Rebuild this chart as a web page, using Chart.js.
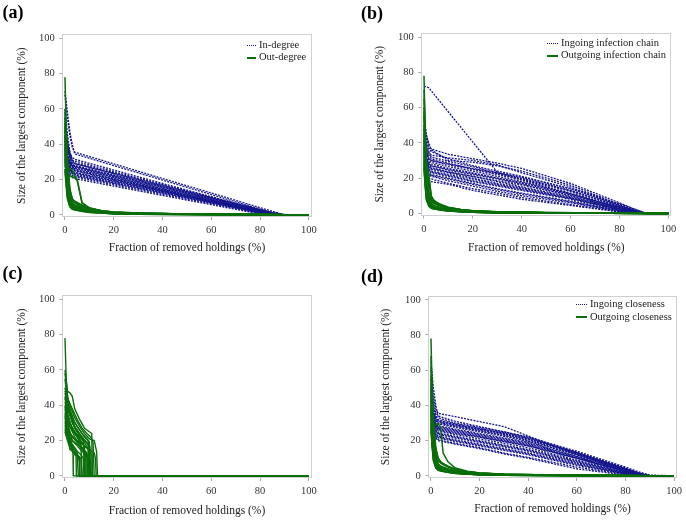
<!DOCTYPE html>
<html><head><meta charset="utf-8">
<script src="https://cdn.jsdelivr.net/npm/chart.js@4.4.1/dist/chart.umd.min.js"></script>
<style>
html,body{margin:0;padding:0;background:#fff}
body{width:686px;height:521px;position:relative;overflow:hidden;font-family:"Liberation Serif",serif}
canvas{position:absolute}
.lab{position:absolute;font:bold 18px/18px "Liberation Serif",serif;color:#000}
.leg{position:absolute;font:10.5px "Liberation Serif",serif;color:#222;white-space:nowrap}
.leg div{height:12.5px;line-height:12.5px}
.smp{display:inline-block;vertical-align:middle;height:0;margin-right:3px}
.dot{border-top:1.5px dotted #15158c}
.sol{border-top:2px solid #0a6e0a}
</style></head><body>
<canvas id="ca" style="left:0;top:0" width="343" height="260"></canvas>
<canvas id="cb" style="left:343px;top:0" width="343" height="260"></canvas>
<canvas id="cc" style="left:0;top:260px" width="343" height="261"></canvas>
<canvas id="cd" style="left:343px;top:260px" width="343" height="261"></canvas>
<div class="lab" style="left:2.5px;top:3px">(a)</div>
<div class="lab" style="left:361px;top:4px">(b)</div>
<div class="lab" style="left:2.5px;top:264px">(c)</div>
<div class="lab" style="left:361px;top:267px">(d)</div>
<div class="leg" style="left:247px;top:38.5px"><div><span class="smp dot" style="width:9px"></span>In-degree</div><div><span class="smp sol" style="width:9px"></span>Out-degree</div></div>
<div class="leg" style="left:547px;top:36.5px"><div><span class="smp dot" style="width:11px"></span>Ingoing infection chain</div><div><span class="smp sol" style="width:11px"></span>Outgoing infection chain</div></div>
<div class="leg" style="left:576px;top:298px"><div><span class="smp dot" style="width:11px"></span>Ingoing closeness</div><div><span class="smp sol" style="width:11px"></span>Outgoing closeness</div></div>
<script>
// ---------- tick labels / axes ----------
const tickValues = [0, 20, 40, 60, 80, 100];
const xTitle = 'Fraction of removed holdings (%)';
const yTitle = 'Size of the largest component (%)';

// ---------- shared x positions (fraction of removed holdings, %) ----------
const xInDegree = [0, 1, 2, 3, 4, 20, 40, 60, 80, 85, 90, 100];
const xChain = [0, 1, 2, 3, 10, 20, 30, 40, 60, 80, 85, 90, 100];
const xOut = [0, 0.5, 1, 2, 3, 4, 5, 7, 10, 15, 20, 30, 50, 75, 100];

// ---------- panel (a) ----------
const inDegree = [
  [68, 55, 45, 38, 35.5, 28.9, 20.6, 12.4, 4.1, 2.1, 0, 0],
  [70, 58, 47, 40, 34.5, 27.9, 19.7, 11.5, 3.3, 1.2, 0, 0],
  [45, 38, 33, 31, 30.5, 24.5, 17.1, 9.7, 2.2, 0.4, 0, 0],
  [42, 36, 31, 29.5, 29, 23.3, 16.1, 9.0, 1.8, 0, 0, 0],
  [38, 33, 30, 28.5, 28, 22.6, 15.9, 9.1, 2.4, 0.7, 0, 0],
  [40, 34, 30, 28, 27, 21.6, 14.8, 8.1, 1.4, 0, 0, 0],
  [35, 31, 28, 27, 26.5, 21.3, 14.9, 8.4, 1.9, 0.3, 0, 0],
  [33, 29, 27, 26, 25.5, 20.3, 13.9, 7.4, 1.0, 0, 0, 0],
  [50, 40, 32, 27, 25, 20.2, 14.3, 8.3, 2.4, 0.9, 0, 0],
  [30, 27, 25.5, 24.5, 24, 19.3, 13.3, 7.4, 1.5, 0, 0, 0],
  [28, 26, 24.5, 23.5, 23, 18.4, 12.7, 6.9, 1.2, 0, 0, 0],
  [44, 35, 28, 24, 22.5, 18.1, 12.6, 7.1, 1.6, 0.3, 0, 0],
  [26, 24, 23, 22, 21.5, 17.1, 11.7, 6.3, 0.8, 0, 0, 0],
  [25, 23, 22, 21, 20.5, 16.3, 11.0, 5.8, 0.5, 0, 0, 0],
  [55, 42, 33, 29, 27.5, 22.3, 15.9, 9.4, 2.9, 1.3, 0, 0],
  [36, 32, 29, 27.5, 26, 20.9, 14.4, 8.0, 1.6, 0, 0, 0],
  [32, 28, 26, 24.5, 24, 19.4, 13.6, 7.8, 2.0, 0.6, 0, 0],
  [60, 46, 36, 30, 29, 23.5, 16.6, 9.7, 2.8, 1.0, 0, 0],
  [48, 40, 35, 32.5, 31.5, 25.4, 17.8, 10.3, 2.7, 0.8, 0, 0],
  [37, 32, 29.5, 28, 27.5, 22.1, 15.4, 8.7, 2.0, 0.3, 0, 0],
  [34, 30, 27, 25.5, 25, 20, 13.8, 7.5, 1.3, 0, 0, 0],
  [29, 26, 24, 22.5, 22, 17.7, 12.2, 6.8, 1.4, 0, 0, 0],
  [52, 41, 34, 31, 29.5, 23.9, 17.0, 10.1, 3.1, 1.4, 0, 0],
  [31, 27.5, 25.5, 24, 23.5, 18.9, 13.2, 7.4, 1.7, 0.3, 0, 0]
];
const outDegree = [
  [78, 50, 30, 12, 7, 5.5, 5, 4, 3, 2, 1.4, 0.9, 0.5, 0.3, 0],
  [60, 40, 25, 10, 6, 5, 4.5, 3.5, 2.6, 1.8, 1.2, 0.8, 0.4, 0.2, 0],
  [55, 35, 20, 9, 5.5, 4.5, 4, 3.2, 2.4, 1.6, 1.1, 0.7, 0.4, 0.2, 0],
  [50, 30, 18, 8, 5, 4.2, 3.8, 3, 2.2, 1.5, 1, 0.6, 0.3, 0.2, 0],
  [45, 28, 16, 7, 4.5, 3.9, 3.5, 2.8, 2, 1.4, 1, 0.6, 0.3, 0.1, 0],
  [42, 26, 15, 6.5, 4.2, 3.6, 3.3, 2.6, 1.9, 1.3, 0.9, 0.5, 0.3, 0.1, 0],
  [40, 32, 24, 12, 8, 6.8, 6, 4.8, 3.5, 2.2, 1.5, 0.9, 0.5, 0.3, 0],
  [38, 25, 14, 6, 4, 3.5, 3.1, 2.5, 1.8, 1.2, 0.8, 0.5, 0.3, 0.1, 0],
  [35, 22, 12, 5.5, 3.8, 3.3, 3, 2.4, 1.7, 1.1, 0.8, 0.5, 0.2, 0.1, 0],
  [32, 20, 11, 5, 3.5, 3.1, 2.8, 2.2, 1.6, 1.1, 0.7, 0.4, 0.2, 0.1, 0],
  [30, 28, 27, 26, 25.5, 22, 20, 7, 4, 2.4, 1.6, 1, 0.5, 0.3, 0],
  [28, 25, 23, 22, 21.5, 21, 19.5, 6.5, 3.8, 2.2, 1.4, 0.9, 0.5, 0.2, 0],
  [26, 18, 10, 5, 3.5, 3, 2.7, 2.1, 1.5, 1, 0.7, 0.4, 0.2, 0.1, 0],
  [25, 16, 9, 4.5, 3.2, 2.8, 2.5, 2, 1.4, 1, 0.6, 0.4, 0.2, 0.1, 0],
  [48, 38, 28, 14, 9, 7.8, 7, 5.5, 3.8, 2.4, 1.6, 1, 0.5, 0.3, 0],
  [52, 33, 19, 8.5, 5.2, 4.6, 4.2, 3.4, 2.5, 1.7, 1.2, 0.7, 0.4, 0.2, 0],
  [58, 45, 32, 15, 9, 7.5, 6.5, 5, 3.6, 2.3, 1.5, 0.9, 0.5, 0.3, 0],
  [44, 36, 27, 11, 6.5, 5.6, 5, 4, 2.9, 1.9, 1.3, 0.8, 0.4, 0.2, 0]
];

// ---------- panel (b) ----------
const ingoingChain = [
  [72, 71.8, 71.2, 69.5, 57.5, 40.4, 23.3, 19, 11, 3, 1, 0, 0],
  [55, 45, 38, 36.5, 33.5, 31, 28.5, 25.5, 17, 6, 3, 0.5, 0],
  [48, 42, 37, 35, 31, 27, 24, 21, 14, 5, 2.5, 0, 0],
  [45, 38, 34, 32, 29.5, 26.5, 23, 20, 13, 4, 1.5, 0, 0],
  [42, 35, 31, 30, 28, 25.5, 23, 20.5, 14, 5.5, 3, 0.5, 0],
  [40, 34, 30, 29, 26.5, 24, 21, 18, 11.5, 3.5, 1, 0, 0],
  [38, 32, 29, 28, 25.5, 23, 20, 17.5, 11, 3, 0.8, 0, 0],
  [36, 31, 28, 27, 24.5, 22, 19.5, 16.5, 10, 2.5, 0.5, 0, 0],
  [35, 30, 27, 26, 23.5, 21, 18.5, 16, 10.5, 3.5, 1.5, 0, 0],
  [33, 28, 26, 25, 23, 20, 17, 14.5, 9, 2, 0.3, 0, 0],
  [32, 28, 25, 24, 22, 19.5, 16.5, 14, 8.5, 2.5, 0.8, 0, 0],
  [30, 26, 24, 23, 21, 18, 15.5, 13, 8, 1.8, 0.3, 0, 0],
  [29, 25, 23, 22, 20, 17, 14, 11.5, 7, 1.5, 0, 0, 0],
  [28, 24, 22, 21, 18.5, 15.5, 12.5, 10, 6, 1.2, 0, 0, 0],
  [27, 22, 20, 19.5, 17, 14, 11.5, 9, 5, 1, 0, 0, 0],
  [26, 21, 19, 18, 16.5, 13, 10.5, 8, 4.5, 0.8, 0, 0, 0],
  [50, 44, 40, 36, 30, 29, 27, 24, 16, 5, 2, 0, 0],
  [46, 40, 35, 33, 31.5, 30, 27.5, 23, 15, 4.5, 2, 0, 0],
  [44, 37, 33, 31, 28.5, 25, 22, 19, 12.5, 4, 1.8, 0, 0],
  [37, 31, 28, 27, 25, 22.5, 20, 17, 11, 3.2, 1, 0, 0],
  [34, 29, 26.5, 25.5, 23.5, 21, 18, 15, 9.5, 2.8, 0.8, 0, 0],
  [31, 27, 24.5, 23.5, 21.5, 18.5, 16, 13.5, 8.5, 2.2, 0.5, 0, 0],
  [29, 24, 22, 21.5, 19.5, 16.5, 13.5, 11, 6.5, 1.5, 0, 0, 0],
  [41, 35, 31, 30, 27.5, 25, 22.5, 19.5, 13, 4.5, 2, 0, 0]
];
const outgoingChain = [
  [78, 45, 22, 9, 5.5, 4.5, 4, 3.2, 2.4, 1.6, 1.1, 0.7, 0.4, 0.2, 0],
  [65, 40, 20, 8, 5, 4.2, 3.8, 3, 2.2, 1.5, 1, 0.6, 0.3, 0.2, 0],
  [60, 35, 18, 7.5, 4.8, 4, 3.6, 2.9, 2.1, 1.4, 1, 0.6, 0.3, 0.1, 0],
  [55, 30, 16, 7, 4.5, 3.8, 3.4, 2.7, 2, 1.3, 0.9, 0.5, 0.3, 0.1, 0],
  [50, 42, 30, 12, 7, 6, 5.2, 4.2, 3, 2, 1.4, 0.8, 0.4, 0.2, 0],
  [48, 28, 14, 6.5, 4.2, 3.6, 3.2, 2.6, 1.9, 1.3, 0.9, 0.5, 0.3, 0.1, 0],
  [45, 26, 13, 6, 4, 3.4, 3, 2.4, 1.8, 1.2, 0.8, 0.5, 0.2, 0.1, 0],
  [42, 36, 28, 22, 10, 7.5, 6.5, 5, 3.5, 2.2, 1.5, 0.9, 0.5, 0.2, 0],
  [40, 24, 12, 5.5, 3.8, 3.2, 2.9, 2.3, 1.7, 1.1, 0.8, 0.4, 0.2, 0.1, 0],
  [38, 22, 11, 5, 3.6, 3, 2.7, 2.2, 1.6, 1.1, 0.7, 0.4, 0.2, 0.1, 0],
  [35, 30, 25, 18, 8, 6.5, 5.8, 4.6, 3.2, 2.1, 1.4, 0.8, 0.4, 0.2, 0],
  [33, 20, 10, 4.8, 3.4, 2.9, 2.6, 2.1, 1.5, 1, 0.7, 0.4, 0.2, 0.1, 0],
  [30, 18, 9, 4.5, 3.2, 2.8, 2.5, 2, 1.4, 1, 0.6, 0.4, 0.2, 0.1, 0],
  [28, 24, 21, 20, 9, 7, 6, 4.8, 3.4, 2.2, 1.5, 0.9, 0.5, 0.2, 0],
  [26, 16, 8, 4.2, 3, 2.6, 2.4, 1.9, 1.3, 0.9, 0.6, 0.3, 0.2, 0.1, 0],
  [25, 15, 7.5, 4, 2.9, 2.5, 2.3, 1.8, 1.3, 0.9, 0.6, 0.3, 0.2, 0.1, 0],
  [58, 38, 24, 10, 6.5, 5.5, 5, 4, 2.8, 1.9, 1.3, 0.8, 0.4, 0.2, 0],
  [70, 50, 28, 11, 7.5, 6.4, 5.6, 4.4, 3.1, 2, 1.4, 0.8, 0.4, 0.2, 0]
];

// ---------- panel (c): [x, y] points per replicate ----------
const panelC = [
  [[0,78],[0.5,55],[1,45],[2,40],[4,33],[6,28],[8,24],[10,21],[12,20],[13,13.5],[13.3,0],[100,0]],
  [[0,60],[1,48],[2,47],[3,45],[4,38],[6,32],[8,27],[10,25],[11,24],[11.2,0],[100,0]],
  [[0,55],[1,42],[2,38],[4,30],[6,26],[8,22],[9.5,20],[9.8,0],[100,0]],
  [[0,50],[1,40],[2,35],[3,30],[5,25],[7,22],[9,19],[10,16],[10.3,0],[100,0]],
  [[0,45],[1,36],[2,30],[4,25],[6,22],[7.5,20],[8,0],[100,0]],
  [[0,42],[1,35],[2,31],[3,26],[5,22],[6.5,18],[7,0],[100,0]],
  [[0,40],[1,33],[2,28],[4,22],[6,18],[8,14],[9,10],[9.2,0],[100,0]],
  [[0,38],[1,30],[2,25],[3,20],[5,17],[7,14],[8.5,12],[8.7,0],[100,0]],
  [[0,35],[1,28],[2,22],[3,16],[3.3,12],[3.4,0],[100,0]],
  [[0,33],[1,25],[2,15],[3,14],[5,12],[5.8,11],[6,0],[100,0]],
  [[0,30],[1,27],[2,24],[4,21],[6,19],[8,17],[10,15],[12,13],[12.5,10],[12.8,0],[100,0]],
  [[0,28],[1,25],[2,22],[3,20],[5,18],[7,15],[9,12],[10.5,8],[10.8,0],[100,0]],
  [[0,26],[1,22],[2,18],[3,15],[4,12],[5,11],[5.5,0],[100,0]],
  [[0,25],[1,20],[2,16],[3,14],[5,12],[6.5,10],[7,0],[100,0]],
  [[0,48],[1,44],[2,41],[3,38],[5,32],[7,27],[9,24],[10.5,22],[11.5,19],[12,0],[100,0]],
  [[0,58],[1,46],[2,36],[4,28],[6,24],[8,20],[10,17],[10.2,0],[100,0]],
  [[0,36],[1,31],[2,28],[4,24],[6,20],[8,17],[9.5,15],[9.7,0],[100,0]],
  [[0,31],[1,26],[2,21],[3,18],[5,14],[6.5,12],[7.5,10],[7.8,0],[100,0]],
  [[0,44],[1,38],[2,34],[4,27],[6,23],[8,19],[10,14],[11,12],[11.3,0],[100,0]],
  [[0,29],[1,24],[2,20],[3,17],[4,15],[5,13],[6,8],[6.2,0],[100,0]],
  [[0,47],[1,40],[2,36],[3,33],[5,28],[7,24],[9,21],[10,19],[10.5,0],[100,0]],
  [[0,39],[1,34],[2,30],[3,27],[5,23],[7,19],[8,17],[8.3,0],[100,0]],
  [[0,34],[1,29],[2,25],[3,22],[5,19],[7,16],[9,13],[9.4,0],[100,0]],
  [[0,27],[1,23],[2,19],[3,16],[4,14],[4.5,13],[4.7,0],[100,0]]
];

// ---------- panel (d) ----------
const ingoingCloseness = [
  [60, 45, 38, 35.5, 33.6, 30.8, 28, 22.7, 12, 3.4, 1.3, 0, 0],
  [55, 42, 36, 34, 31, 28, 25, 22, 14, 5, 2.5, 0.5, 0],
  [50, 40, 34, 32, 29.5, 27, 24, 21, 13.5, 4.5, 2, 0, 0],
  [45, 36, 32, 30.5, 28.5, 26, 23.5, 20.5, 12.5, 4, 1.5, 0, 0],
  [42, 34, 31, 29.5, 27.5, 25, 22.5, 19.5, 12, 3.5, 1.2, 0, 0],
  [40, 33, 30, 28.5, 26.5, 24, 21.5, 19, 11, 3, 1, 0, 0],
  [38, 32, 29, 27.5, 25.5, 23, 20.5, 18, 10.5, 2.8, 0.8, 0, 0],
  [36, 31, 28, 26.5, 24.5, 22, 19.5, 17, 10, 2.5, 0.5, 0, 0],
  [34, 30, 27, 25.5, 23.5, 21, 18.5, 16, 9, 2, 0.3, 0, 0],
  [33, 29, 26, 24.5, 22.5, 20, 17.5, 15, 8.5, 1.8, 0, 0, 0],
  [31, 27, 25, 23.5, 21.5, 19, 16.5, 14, 7.5, 1.5, 0, 0, 0],
  [30, 26, 24, 22.5, 20.5, 18, 15.5, 13, 7, 1.2, 0, 0, 0],
  [28, 25, 23, 21.5, 19.5, 17, 14.5, 12, 6, 1, 0, 0, 0],
  [27, 24, 22, 20.5, 18.5, 16, 13, 10.5, 5, 0.8, 0, 0, 0],
  [26, 23, 21.5, 20, 18, 15.5, 12.5, 10, 4, 0.5, 0, 0, 0],
  [65, 50, 40, 33, 30, 27.5, 25, 22, 13, 4, 1.8, 0, 0],
  [48, 38, 33, 31, 29, 26.5, 24.5, 21.5, 13, 3.8, 1.4, 0, 0],
  [35, 30, 27.5, 26, 24, 22, 19.5, 17, 10, 2.5, 0.8, 0, 0],
  [46, 37, 33, 31.5, 29, 26.5, 24, 21, 13, 4.2, 1.6, 0, 0],
  [39, 32.5, 29.5, 28, 26, 23.5, 21, 18.5, 11, 3.2, 1, 0, 0],
  [37, 31.5, 28.5, 27, 25, 22.5, 20, 17.5, 10, 2.6, 0.7, 0, 0],
  [32, 28, 25.5, 24, 22, 19.5, 17, 14.5, 8, 1.8, 0, 0, 0],
  [29, 25.5, 23.5, 22, 20, 17.5, 15, 12.5, 6.5, 1.2, 0, 0, 0],
  [44, 35, 31.5, 30, 28, 25.5, 23, 20, 12, 3.6, 1.3, 0, 0]
];
const outgoingCloseness = [
  [78, 48, 26, 10, 6, 5, 4.5, 3.6, 2.6, 1.7, 1.2, 0.8, 0.4, 0.2, 0],
  [62, 42, 24, 9.5, 5.8, 4.8, 4.3, 3.4, 2.5, 1.6, 1.1, 0.7, 0.4, 0.2, 0],
  [57, 36, 20, 8.5, 5.2, 4.4, 3.9, 3.1, 2.3, 1.5, 1, 0.6, 0.3, 0.2, 0],
  [52, 32, 18, 8, 5, 4.2, 3.7, 3, 2.2, 1.4, 1, 0.6, 0.3, 0.1, 0],
  [47, 40, 30, 14, 8.5, 7.2, 6.4, 5, 3.6, 2.3, 1.5, 0.9, 0.5, 0.2, 0],
  [45, 28, 15, 7, 4.5, 3.8, 3.4, 2.7, 2, 1.3, 0.9, 0.5, 0.3, 0.1, 0],
  [43, 26, 14, 6.5, 4.2, 3.6, 3.2, 2.6, 1.9, 1.2, 0.8, 0.5, 0.3, 0.1, 0],
  [40, 24, 13, 6, 4, 3.4, 3, 2.4, 1.8, 1.2, 0.8, 0.5, 0.2, 0.1, 0],
  [38, 22, 12, 5.5, 3.8, 3.2, 2.9, 2.3, 1.7, 1.1, 0.8, 0.4, 0.2, 0.1, 0],
  [35, 20, 11, 5.2, 3.6, 3.1, 2.8, 2.2, 1.6, 1.1, 0.7, 0.4, 0.2, 0.1, 0],
  [32, 29, 28, 29, 30, 27, 13, 8, 4.5, 2.6, 1.7, 1, 0.5, 0.3, 0],
  [30, 18, 10, 5, 3.5, 3, 2.7, 2.1, 1.5, 1, 0.7, 0.4, 0.2, 0.1, 0],
  [28, 17, 9, 4.7, 3.3, 2.9, 2.6, 2, 1.5, 1, 0.6, 0.4, 0.2, 0.1, 0],
  [26, 16, 8.5, 4.5, 3.2, 2.8, 2.5, 2, 1.4, 0.9, 0.6, 0.3, 0.2, 0.1, 0],
  [25, 23, 20, 15, 10, 8, 7, 5.5, 3.8, 2.4, 1.6, 1, 0.5, 0.2, 0],
  [55, 44, 33, 16, 9.5, 8, 7, 5.4, 3.8, 2.4, 1.6, 1, 0.5, 0.3, 0],
  [50, 30, 17, 7.5, 4.8, 4, 3.6, 2.9, 2.1, 1.4, 0.9, 0.5, 0.3, 0.1, 0],
  [68, 46, 27, 11, 6.8, 5.7, 5.1, 4, 2.9, 1.9, 1.3, 0.8, 0.4, 0.2, 0]
];

// ---------- styling ----------
const BLUE = '#15158c', GREEN = '#0a6e0a';
const FONT = '"Liberation Serif", "Times New Roman", serif';

function gridSets(xs, rows, dotted) {
  return rows.map(r => ({
    data: r.map((y, i) => ({x: xs[i], y})),
    borderColor: dotted ? BLUE : GREEN,
    borderWidth: dotted ? 1.3 : 1.5,
    borderDash: dotted ? [2, 1.2] : [],
    order: dotted ? 1 : 0,
    pointRadius: 0, fill: false, tension: 0
  }));
}
function pairSets(rows) {
  return rows.map(r => ({
    data: r.map(p => ({x: p[0], y: p[1]})),
    borderColor: GREEN, borderWidth: 1.4, order: 0,
    pointRadius: 0, fill: false, tension: 0
  }));
}

const frame = {
  id: 'frame',
  beforeDatasetsDraw(chart) {
    const {ctx, chartArea: a} = chart;
    ctx.save();
    ctx.strokeStyle = '#cfcfcf';
    ctx.lineWidth = 1;
    ctx.strokeRect(Math.round(a.left) + 0.5, Math.round(a.top) + 0.5,
      Math.round(a.right) - Math.round(a.left) - 1, Math.round(a.bottom) - Math.round(a.top) - 1);
    ctx.restore();
  }
};

function makeChart(id, g, datasets) {
  const setTicks = s => { s.ticks = tickValues.map(v => ({value: v})); };
  new Chart(document.getElementById(id), {
    type: 'line',
    data: {datasets},
    options: {
      responsive: false, animation: false, devicePixelRatio: 1,
      events: [],
      layout: {padding: {left: 0, top: g.top, right: g.w - g.right, bottom: 0}},
      plugins: {legend: {display: false}, tooltip: {enabled: false}},
      scales: {
        x: {
          type: 'linear', min: -1.1, max: 101.2,
          afterBuildTicks: setTicks,
          afterFit: s => { s.height = g.h - g.bottom; },
          grid: {display: true, drawOnChartArea: false, drawTicks: true, tickLength: 3, color: '#a8a8a8'},
          border: {display: false},
          ticks: {font: {family: FONT, size: 10.5}, color: '#333', padding: 4, maxRotation: 0, autoSkip: false},
          title: {display: true, text: xTitle, font: {family: FONT, size: 11.5}, color: '#222', padding: {top: 0, bottom: g.xtp}}
        },
        y: {
          type: 'linear', min: -1.2, max: 102.3,
          afterBuildTicks: setTicks,
          afterFit: s => { s.width = g.left; },
          grid: {display: true, drawOnChartArea: false, drawTicks: true, tickLength: 3, color: '#a8a8a8'},
          border: {display: false},
          ticks: {font: {family: FONT, size: 10.5}, color: '#333', padding: 4.5, autoSkip: false},
          title: {display: true, text: yTitle, font: {family: FONT, size: 11.5}, color: '#222', padding: {top: g.ytp, bottom: 0}}
        }
      }
    },
    plugins: [frame]
  });
}

makeChart('ca', {w: 343, h: 260, left: 62.3, top: 34.2, right: 311.7, bottom: 217, ytp: 14.8, xtp: 5.1},
  gridSets(xOut, outDegree, false).concat(gridSets(xInDegree, inDegree, true)));
makeChart('cb', {w: 343, h: 260, left: 78.3, top: 33, right: 328.3, bottom: 215.5, ytp: 30.4, xtp: 4.8},
  gridSets(xOut, outgoingChain, false).concat(gridSets(xChain, ingoingChain, true)));
makeChart('cc', {w: 343, h: 261, left: 62.3, top: 35.2, right: 311.7, bottom: 218, ytp: 14.8, xtp: 3.4},
  pairSets(panelC));
makeChart('cd', {w: 343, h: 261, left: 85.3, top: 35.7, right: 334.3, bottom: 218, ytp: 36.4, xtp: 4.8},
  gridSets(xOut, outgoingCloseness, false).concat(gridSets(xChain, ingoingCloseness, true)));
</script>
</body></html>
